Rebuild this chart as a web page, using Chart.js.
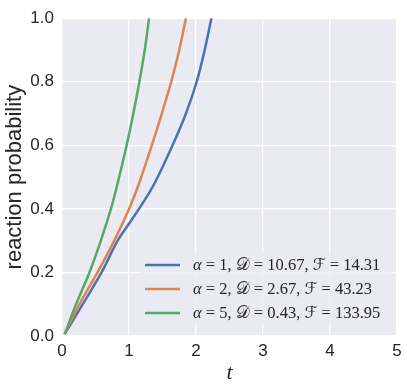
<!DOCTYPE html>
<html>
<head>
<meta charset="utf-8">
<script src="https://cdn.jsdelivr.net/npm/chart.js@4"></script>
<style>
  body { margin: 0; background: #fff; }
  canvas { display: block; }
</style>
</head>
<body>
<canvas id="reactionChart" width="407" height="392"></canvas>
<script>
// values
let tBlue = [0.04, 0.31, 0.59, 0.83, 1.00, 1.18, 1.38, 1.65, 1.85, 2.01, 2.13, 2.23]
let pBlue = [0.006, 0.10, 0.20, 0.30, 0.353, 0.41, 0.48, 0.60, 0.70, 0.80, 0.90, 1.00]
let tOrange = [0.04, 0.26, 0.53, 0.78, 1.00, 1.15, 1.34, 1.49, 1.63, 1.75, 1.85]
let pOrange = [0.006, 0.10, 0.20, 0.30, 0.40, 0.48, 0.60, 0.70, 0.80, 0.90, 1.00]
let tGreen = [0.04, 0.21, 0.41, 0.58, 0.73, 0.83, 0.965, 1.065, 1.155, 1.235, 1.30]
let pGreen = [0.006, 0.10, 0.20, 0.30, 0.40, 0.48, 0.60, 0.70, 0.80, 0.90, 1.00]

let alphas = ['1', '2', '5']
let dValues = ['10.67', '2.67', '0.43']
let fValues = ['14.31', '43.23', '133.95']
let colors = ['#4C72B0', '#DD8452', '#55A868']

let xTicks = [0, 1, 2, 3, 4, 5]
let yTicks = [0, 0.2, 0.4, 0.6, 0.8, 1.0]

let graph = document.getElementById('reactionChart')

function toPoints(ts, ps) {
    return ts.map((t, i) => ({ x: t, y: ps[i] }))
}

/* <><><><><><><><><plot background><><><><><><><><> */
let plotBackground = {
    id: 'plotBackground',
    beforeDraw(chart) {
        let { ctx, chartArea: a } = chart
        ctx.save()
        ctx.fillStyle = '#EAEAF2'
        ctx.fillRect(a.left, a.top, a.right - a.left, a.bottom - a.top)
        ctx.restore()
    }
}

/* <><><><><><><><><legend with math text><><><><><><><><> */
let mathLegend = {
    id: 'mathLegend',
    afterDatasetsDraw(chart) {
        let ctx = chart.ctx
        let a = chart.chartArea
        let boxRight = a.right - 5
        let boxBottom = a.bottom - 11
        let rowGap = 24
        let boxTop = boxBottom - 73
        let boxLeft = 140
        ctx.save()
        ctx.fillStyle = 'rgba(234,234,242,0.8)'
        ctx.beginPath()
        ctx.roundRect(boxLeft, boxTop, boxRight - boxLeft, boxBottom - boxTop, 4)
        ctx.fill()

        let roman = '16.5px "Liberation Serif", "DejaVu Serif", serif'
        let italic = 'italic 16.5px "Liberation Serif", "DejaVu Serif", serif'
        let script = '16.5px "DejaVu Serif", "DejaVu Sans", serif'
        ctx.textBaseline = 'middle'
        alphas.forEach((al, i) => {
            let y = boxTop + 13 + i * rowGap
            ctx.strokeStyle = colors[i]
            ctx.lineWidth = 2.5
            ctx.beginPath()
            ctx.moveTo(145, y)
            ctx.lineTo(180, y)
            ctx.stroke()

            let pieces = [
                [italic, '\u03B1'], [roman, ' = ' + al + ', '],
                [script, '\uD835\uDC9F'], [roman, ' = ' + dValues[i] + ', '],
                [script, '\u2131'], [roman, ' = ' + fValues[i]]
            ]
            let x = 193
            ctx.fillStyle = '#262626'
            pieces.forEach(([font, txt]) => {
                ctx.font = font
                ctx.fillText(txt, x, y + 1)
                x += ctx.measureText(txt).width
            })
        })
        ctx.restore()
    }
}

/* <><><><><><><><><chart><><><><><><><><> */
let lines = [
    toPoints(tBlue, pBlue),
    toPoints(tOrange, pOrange),
    toPoints(tGreen, pGreen)
]

let chart = new Chart(graph, {
    type: 'line',
    data: {
        datasets: lines.map((pts, i) => ({
            label: 'alpha = ' + alphas[i],
            data: pts,
            borderColor: colors[i],
            backgroundColor: colors[i],
            borderWidth: 2.5,
            pointRadius: 0,
            tension: 0.35,
            fill: false,
            order: 3 - i
        }))
    },
    options: {
        responsive: false,
        animation: false,
        layout: { padding: { left: 2, top: 12, right: 10, bottom: 0 } },
        plugins: {
            legend: { display: false },
            tooltip: { enabled: false }
        },
        scales: {
            x: {
                type: 'linear',
                min: 0,
                max: 5,
                afterBuildTicks: s => { s.ticks = xTicks.map(v => ({ value: v })) },
                afterFit: s => { s.height = 56 },
                grid: { color: '#ffffff', lineWidth: 1.3, drawTicks: false },
                border: { display: false },
                ticks: {
                    padding: 5,
                    color: '#262626',
                    font: { family: '"Liberation Sans", Arial, sans-serif', size: 17 },
                    callback: v => String(v)
                },
                title: {
                    display: true,
                    text: 't',
                    color: '#262626',
                    font: { family: '"Liberation Serif", "DejaVu Serif", serif', size: 22, style: 'italic' },
                    padding: { top: 0, bottom: 6 }
                }
            },
            y: {
                type: 'linear',
                min: 0,
                max: 1,
                afterBuildTicks: s => { s.ticks = yTicks.map(v => ({ value: v })) },
                afterFit: s => { s.width = 60 },
                grid: { color: '#ffffff', lineWidth: 1.3, drawTicks: false },
                border: { display: false },
                ticks: {
                    padding: 8,
                    color: '#262626',
                    font: { family: '"Liberation Sans", Arial, sans-serif', size: 17 },
                    callback: v => v.toFixed(1)
                },
                title: {
                    display: true,
                    text: 'reaction probability',
                    color: '#262626',
                    font: { family: '"Liberation Sans", Arial, sans-serif', size: 22 },
                    padding: { top: 0, bottom: 0 }
                }
            }
        }
    },
    plugins: [plotBackground, mathLegend]
})
</script>
</body>
</html>
